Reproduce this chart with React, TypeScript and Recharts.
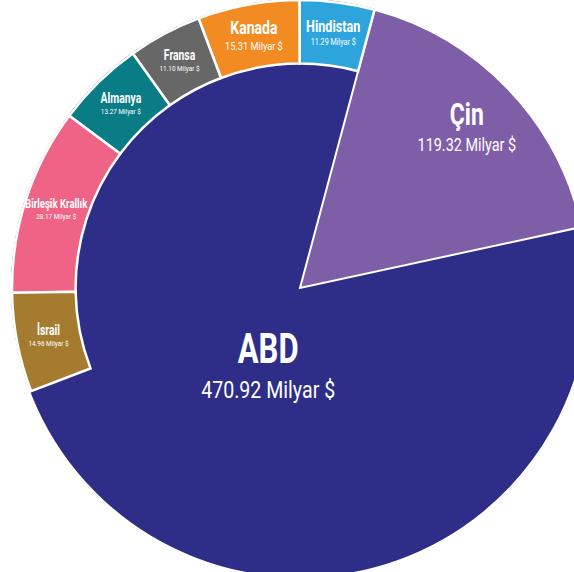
import React from 'react';
import { PieChart, Pie, Cell } from 'recharts';

// Large cells
const bigNames = ['Çin', 'ABD'];
const bigValues = [119.32, 470.92];
const bigColors = ['#7f5ea8', '#2e2d87'];

// Outer band cells (counter-clockwise from Hindistan)
const ringNames = ['Hindistan', 'Kanada', 'Fransa', 'Almanya', 'Birleşik Krallık', 'İsrail'];
const ringValues = [11.29, 15.31, 11.10, 13.27, 28.17, 14.96];
const ringColors = ['#2da4dc', '#f28c22', '#676767', '#0a7c86', '#ef6387', '#a57c2f'];
const ringTitleSizes = [17, 19, 14, 14, 13, 14];
const ringSubSizes = [9, 11.5, 8, 8, 8, 8];

const UNIT = 'Milyar $';
const FONT = 'Roboto, "DejaVu Sans", sans-serif';
const TITLE_SX = 0.74;
const SUB_SX = 0.8;
const RADIAN = Math.PI / 180;

const W = 574;
const H = 572;
const CX = 300;
const CY = 288;
const R = 288;
const RING_START = 75;
const RING_END = 201;

const ringTotal = ringValues.reduce((a, b) => a + b, 0);
const grandTotal = ringTotal + bigValues.reduce((a, b) => a + b, 0);
// band area share -> inner radius so that ring cell areas match their values
const ringInner = R * Math.sqrt(1 - (ringTotal / grandTotal) * (360 / (RING_END - RING_START)));

const baseData = [
  { name: 'band', value: ringTotal, fill: bigColors[1], label: false, t: 0, s: 0, rf: 0 },
  { name: bigNames[1], value: bigValues[1], fill: bigColors[1], label: true, t: 42, s: 24.5, rf: 0.3 },
  { name: bigNames[0], value: bigValues[0], fill: bigColors[0], label: true, t: 31, s: 18, rf: 0.8 },
];

const ringData = ringNames.map((n, i) => ({
  name: n,
  value: ringValues[i],
  fill: ringColors[i],
  label: true,
  t: ringTitleSizes[i],
  s: ringSubSizes[i],
  rf: 0,
}));

const fmt = (v: number) => `${v.toFixed(2)} ${UNIT}`;

const renderLabel = (ring: boolean) => (props: any) => {
  const { cx, cy, midAngle, innerRadius, outerRadius, index } = props;
  const d = ring ? ringData[index] : baseData[index];
  if (!d || !d.label) return null;
  const rad = ring ? innerRadius + (outerRadius - innerRadius) * 0.5 : outerRadius * d.rf;
  const x = cx + rad * Math.cos(-midAngle * RADIAN);
  const y = cy + rad * Math.sin(-midAngle * RADIAN);
  const tb = y - 0.12 * d.t;
  const sb = tb + 1.4 * d.s;
  return (
    <g key={`lab-${d.name}`}>
      <text
        transform={`translate(${x},${tb}) scale(${TITLE_SX},1)`}
        x={0}
        y={0}
        textAnchor="middle"
        fill="#ffffff"
        fontFamily={FONT}
        fontWeight={700}
        fontSize={d.t}
      >
        {d.name}
      </text>
      <text
        transform={`translate(${x},${sb}) scale(${SUB_SX},1)`}
        x={0}
        y={0}
        textAnchor="middle"
        fill="#ffffff"
        fontFamily={FONT}
        fontWeight={400}
        fontSize={d.s}
      >
        {fmt(d.value)}
      </text>
    </g>
  );
};

export default function App() {
  const baseStart = RING_START;
  return (
    <div style={{ position: 'absolute', left: 0, top: 0, width: W, height: H, background: '#ffffff', overflow: 'hidden' }}>
      <PieChart width={W} height={H} margin={{ top: 0, right: 0, bottom: 0, left: 0 }}>
        <Pie
          data={baseData}
          dataKey="value"
          nameKey="name"
          cx={CX}
          cy={CY}
          innerRadius={0}
          outerRadius={R}
          startAngle={baseStart}
          endAngle={baseStart + 360}
          isAnimationActive={false}
          labelLine={false}
          label={renderLabel(false)}
        >
          {baseData.map((d) => (
            <Cell
              key={d.name}
              fill={d.fill}
              stroke={d.name === bigNames[0] ? '#ffffff' : d.fill}
              strokeWidth={2}
            />
          ))}
        </Pie>
        <Pie
          data={ringData}
          dataKey="value"
          nameKey="name"
          cx={CX}
          cy={CY}
          innerRadius={ringInner}
          outerRadius={R}
          startAngle={RING_START}
          endAngle={RING_END}
          isAnimationActive={false}
          labelLine={false}
          label={renderLabel(true)}
        >
          {ringData.map((d) => (
            <Cell key={d.name} fill={d.fill} stroke="#ffffff" strokeWidth={2.5} />
          ))}
        </Pie>
      </PieChart>
    </div>
  );
}
